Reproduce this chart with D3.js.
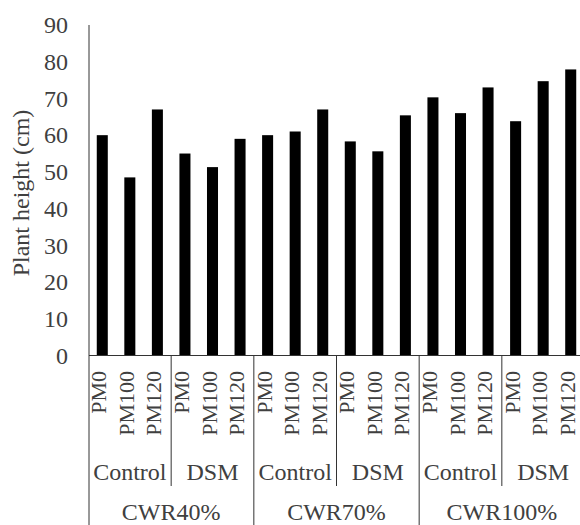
<!DOCTYPE html>
<html><head><meta charset="utf-8">
<script src="https://cdn.jsdelivr.net/npm/d3@7/dist/d3.min.js"></script>
<style>body{margin:0;background:#fff}svg{display:block}</style>
</head><body>
<script>
const waterLevels = ["CWR40%", "CWR70%", "CWR100%"];
const treatments = ["Control", "DSM"];
const doses = ["PM0", "PM100", "PM120"];
const heights = [60, 48.5, 67, 55, 51.3, 59, 60, 61, 67, 58.3, 55.6, 65.4, 70.3, 66, 73, 63.8, 74.7, 77.9];
const yTicks = [0, 10, 20, 30, 40, 50, 60, 70, 80, 90];

const W = 580, H = 525;
const svg = d3.select("body").append("svg").attr("width", W).attr("height", H);
const font = "'Liberation Serif','Times New Roman',serif";
const txt = "#404040", ln = "#333";

const cats = [];
waterLevels.forEach(w => treatments.forEach(t => doses.forEach(d => cats.push({w, t, d}))));
const data = cats.map((c, i) => ({...c, key: i, v: heights[i]}));

const x = d3.scaleBand().domain(data.map(d => d.key)).range([88.5, 584.5]).padding(0);
const y = d3.scaleLinear().domain([0, 90]).range([355.5, 25]);

// bars
const bw = x.bandwidth() * 0.4;
svg.append("g").selectAll("rect").data(data).join("rect")
  .attr("x", d => x(d.key) + (x.bandwidth() - bw) / 2)
  .attr("width", bw)
  .attr("y", d => y(d.v))
  .attr("height", d => y(0) - y(d.v))
  .attr("fill", "#000");

// y axis
const yAxis = d3.axisLeft(y).tickValues(yTicks).tickSize(0).tickPadding(21);
const gy = svg.append("g").attr("transform", "translate(89,0)").call(yAxis);
gy.select(".domain").attr("stroke", ln).attr("d", `M0,${y(90)}V${H}`);
gy.selectAll("text").attr("font-family", font).attr("font-size", 24).attr("fill", txt);

// baseline
svg.append("line").attr("x1", 89).attr("x2", W).attr("y1", y(0)).attr("y2", y(0)).attr("stroke", ln);

// dose labels
svg.append("g").selectAll("text").data(data).join("text")
  .attr("transform", d => `translate(${x(d.key) + x.bandwidth() / 2 + 4},371) rotate(-90)`)
  .attr("text-anchor", "end")
  .attr("font-family", font).attr("font-size", 22).attr("fill", txt)
  .text(d => d.d);

// treatment labels and separators
const n = doses.length;
const sub = [];
waterLevels.forEach((w, wi) => treatments.forEach((t, ti) => sub.push({t, idx: (wi * treatments.length + ti) * n})));
svg.append("g").selectAll("text").data(sub).join("text")
  .attr("x", d => x(d.idx) + x.bandwidth() * n / 2)
  .attr("y", 480)
  .attr("text-anchor", "middle")
  .attr("font-family", font).attr("font-size", 24).attr("fill", txt)
  .text(d => d.t);
svg.append("g").selectAll("line").data(sub.filter((d, i) => i % treatments.length !== 0)).join("line")
  .attr("x1", d => x(d.idx)).attr("x2", d => x(d.idx))
  .attr("y1", y(0)).attr("y2", 486)
  .attr("stroke", ln);

// water level labels and separators
const grp = waterLevels.map((w, i) => ({w, idx: i * treatments.length * n}));
svg.append("g").selectAll("text").data(grp).join("text")
  .attr("x", d => x(d.idx) + x.bandwidth() * n * treatments.length / 2)
  .attr("y", 520)
  .attr("text-anchor", "middle")
  .attr("font-family", font).attr("font-size", 24).attr("fill", txt)
  .text(d => d.w);
svg.append("g").selectAll("line").data(grp.slice(1)).join("line")
  .attr("x1", d => x(d.idx)).attr("x2", d => x(d.idx))
  .attr("y1", y(0)).attr("y2", H)
  .attr("stroke", ln);

// y label
svg.append("text")
  .attr("transform", "translate(29,193) rotate(-90)")
  .attr("text-anchor", "middle")
  .attr("font-family", font).attr("font-size", 24).attr("fill", txt)
  .text("Plant height (cm)");
</script>
</body></html>
